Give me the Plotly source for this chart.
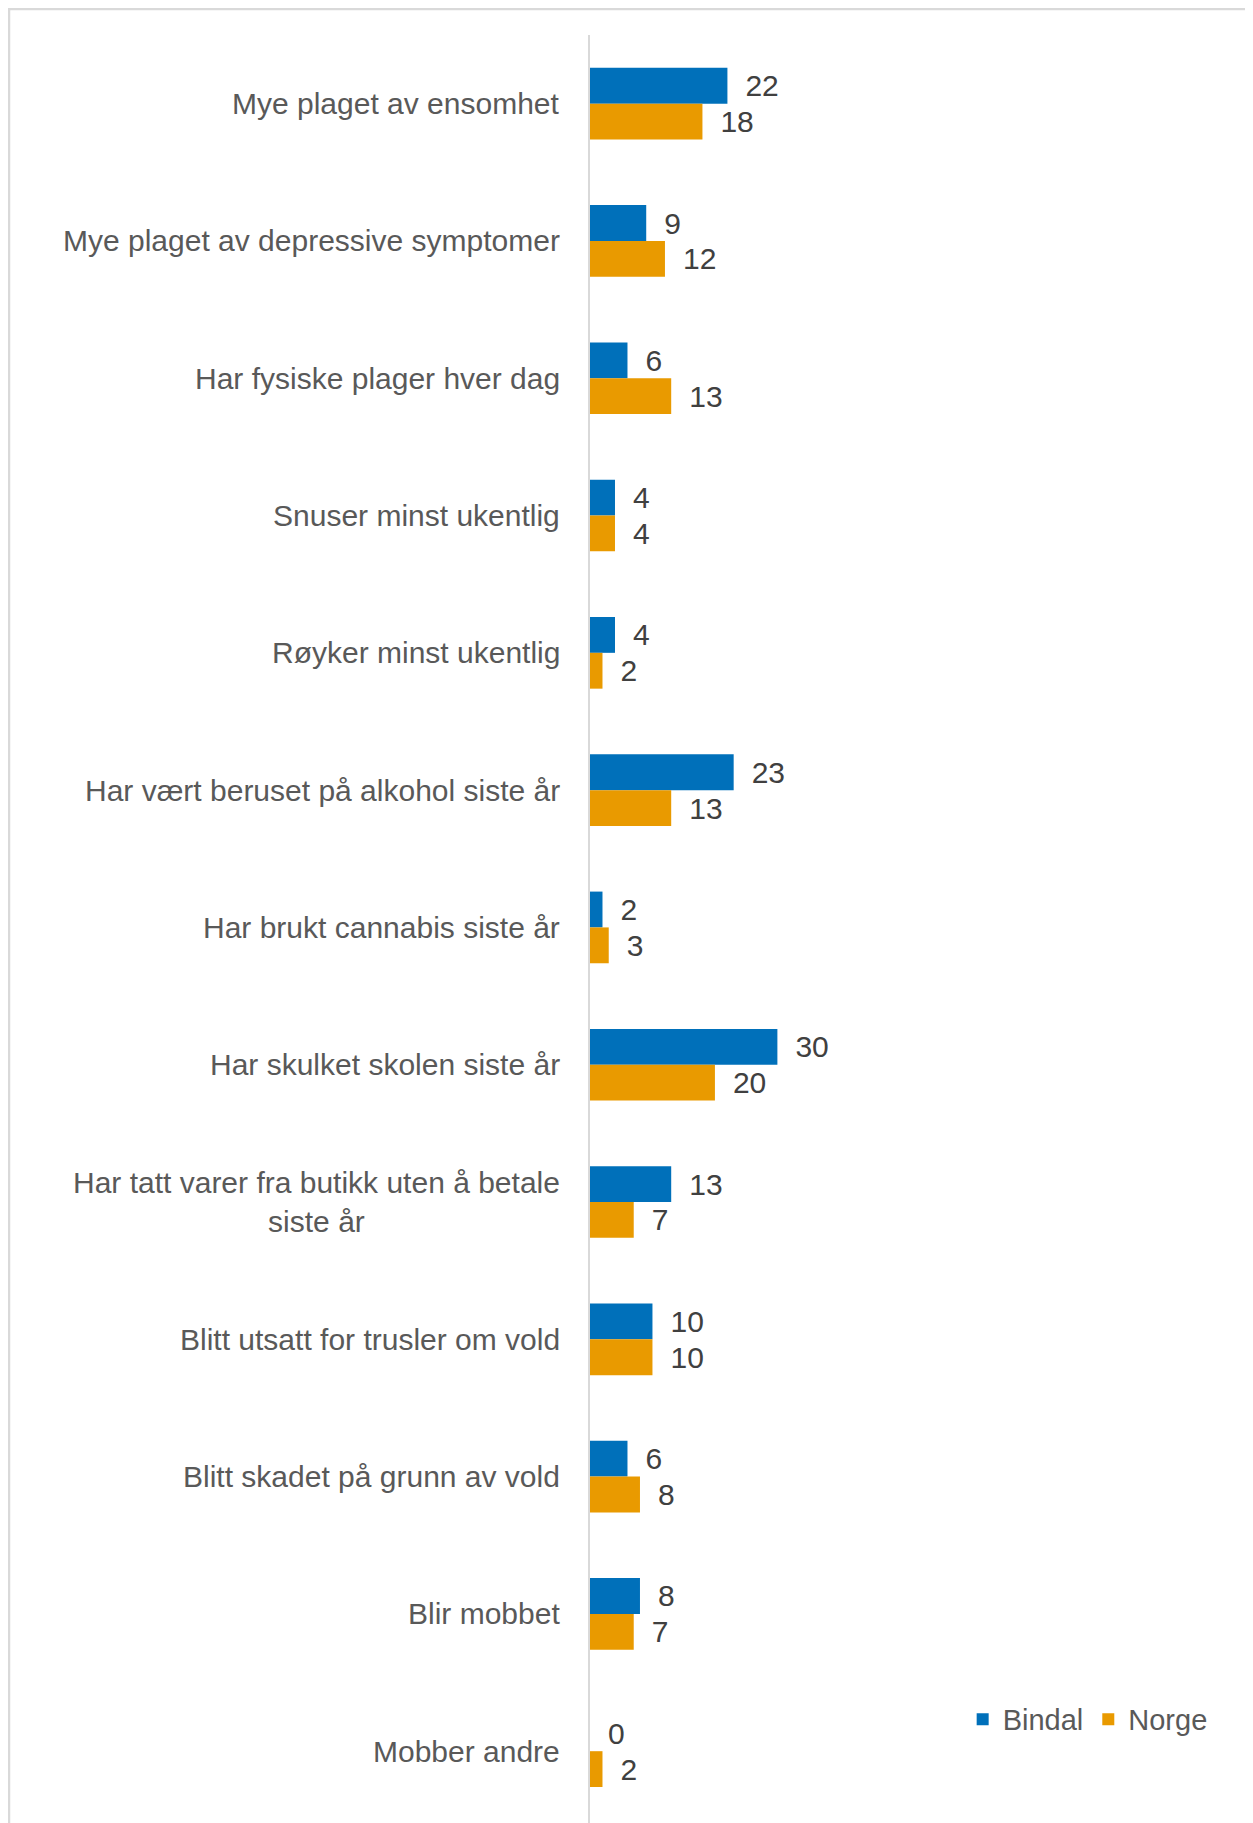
import plotly.graph_objects as go

categories = [
    "Mye plaget av ensomhet",
    "Mye plaget av depressive symptomer",
    "Har fysiske plager hver dag",
    "Snuser minst ukentlig",
    "Røyker minst ukentlig",
    "Har vært beruset på alkohol siste år",
    "Har brukt cannabis siste år",
    "Har skulket skolen siste år",
    "Har tatt varer fra butikk uten å betale<br>siste år",
    "Blitt utsatt for trusler om vold",
    "Blitt skadet på grunn av vold",
    "Blir mobbet",
    "Mobber andre",
]
bindal = [22, 9, 6, 4, 4, 23, 2, 30, 13, 10, 6, 8, 0]
norge = [18, 12, 13, 4, 2, 13, 3, 20, 7, 10, 8, 7, 2]

BLUE = "#0070BA"
ORANGE = "#E99A00"
FONT = "Liberation Sans, Arial, sans-serif"

fig = go.Figure()
for name, vals, col in [("Bindal", bindal, BLUE), ("Norge", norge, ORANGE)]:
    fig.add_trace(go.Bar(
        name=name, y=categories, x=vals, orientation="h",
        marker=dict(color=col, line=dict(width=0)),
        text=vals, texttemplate="\u2002%{x}", textposition="outside",
        constraintext="none", cliponaxis=False,
        textfont=dict(family=FONT, size=30, color="#404040"),
    ))

for c in categories:
    fig.add_annotation(
        x=0, xref="paper", y=c, yref="y", text=c, showarrow=False,
        xanchor="right", yanchor="middle", align="center", xshift=-28,
        font=dict(family=FONT, size=30, color="#595959"),
    )

# outer frame
fig.add_shape(type="rect", xref="paper", yref="paper",
              x0=-581/659, x1=661/659, y0=-30/1788, y1=1+26/1788,
              line=dict(color="#D9D9D9", width=2.5), fillcolor="rgba(0,0,0,0)")

fig.update_layout(
    width=1245, height=1815,
    margin=dict(l=582, r=4, t=27, b=0),
    paper_bgcolor="white", plot_bgcolor="white",
    barmode="group", bargap=0.478, bargroupgap=0,
    font=dict(family=FONT, size=30, color="#595959"),
    xaxis=dict(range=[0, 105.5], visible=False, fixedrange=True),
    yaxis=dict(range=[12.523, -0.5], showticklabels=False, ticks="",
               showline=True, linecolor="#D9D9D9", linewidth=2,
               showgrid=False, zeroline=False),
    legend=dict(orientation="h", x=0.5655, y=0.058, xanchor="left", yanchor="middle",
                font=dict(family=FONT, size=29, color="#595959"),
                bgcolor="rgba(0,0,0,0)", traceorder="normal", itemwidth=30),
    showlegend=True,
)

fig.write_html("out.html")
